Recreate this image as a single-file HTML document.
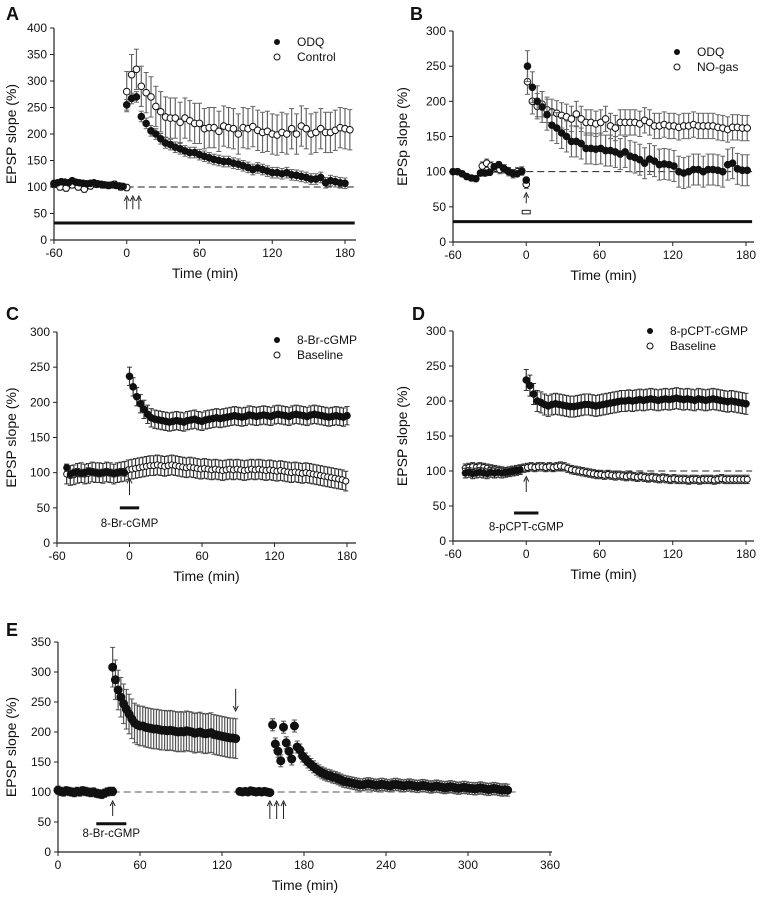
<!DOCTYPE html>
<html><head><meta charset="utf-8">
<style>
html,body{margin:0;padding:0;background:#fff;}
svg{display:block;font-family:"Liberation Sans",Arial,sans-serif;}
</style></head>
<body>
<svg id="fig" width="760" height="900" viewBox="0 0 760 900" xmlns="http://www.w3.org/2000/svg"></svg>
<script>
// ---------- DATA ----------
// Panel A
const aOdqBase = [107,108,110,109,108,112,109,108,107,106,107,108,106,105,104,103,104,103,102,101];
const aOdqPost = [255,267,270,233,220,206,200,191,183,180,175,172,168,165,165,161,158,155,152,150,148,148,145,143,140,137,133,136,133,130,127,127,125,127,123,122,120,118,115,115,118,108,112,110,108,107];
const aCtlBase = [105,100,98,104,100,96,102,105,104,103,105,100,99];
const aCtlPost = [280,312,322,290,278,270,252,242,232,230,230,222,230,225,220,220,210,212,212,205,215,212,210,200,212,210,214,207,203,205,200,198,203,200,210,200,215,210,200,203,210,203,203,207,212,210,208];
// Panel B
const bOdqBase = [100,100,97,93,91,90,98,98,99,107,110,105,101,98,97,100,88];
const bOdqPost = [250,220,200,192,181,166,162,155,150,143,143,140,133,133,132,133,130,130,128,125,128,122,120,117,112,118,115,110,111,110,108,100,98,100,103,103,100,103,103,102,100,110,112,104,102,102];
const bNoBase = [108,112,108,105,103,104,100,97,100,101,82];
const bNoPost = [228,200,193,196,188,185,183,180,178,175,182,175,170,170,168,170,175,165,162,170,170,170,170,168,173,170,165,165,167,165,165,163,165,165,167,165,165,165,165,163,162,160,163,163,162,162];
// Panel C
const cDrugBase = [107,98,100,101,99,100,102,101,100,99,100,101,100,99,100,101,100];
const cDrugPost = [237,222,208,198,190,183,178,176,175,174,173,172,173,174,173,172,174,175,176,174,173,175,176,177,178,177,178,179,180,181,180,179,180,182,181,180,181,182,181,180,182,183,182,181,180,182,183,182,181,180,182,183,182,181,180,179,180,181,180,179,181];
const cBaseline = [98,96,97,99,100,98,99,101,100,100,99,101,100,98,100,101,102,104,105,106,107,108,109,110,110,111,110,109,110,111,110,109,108,107,108,107,106,105,106,105,104,105,104,103,104,105,104,105,104,103,104,105,104,105,104,103,104,103,102,103,102,101,100,101,100,99,100,99,98,97,96,95,94,93,92,91,90,88];
// Panel D
const dDrugBase = [97,98,96,97,98,97,96,98,97,98,97,98,99,100,101,102];
const dDrugPost = [230,222,210,200,198,195,193,195,196,195,194,193,192,192,193,194,195,195,194,193,194,195,196,197,198,199,200,200,201,200,201,202,201,202,203,202,201,202,203,202,203,204,203,202,203,202,201,203,202,201,202,203,202,201,200,199,200,199,198,197,196];
const dBaseline = [104,105,106,105,106,105,104,103,102,101,100,99,98,99,100,102,104,105,106,105,106,106,105,106,105,106,107,106,104,102,101,100,99,98,97,96,95,95,94,95,94,93,94,93,92,93,92,91,92,91,90,91,90,89,90,89,88,89,88,88,88,87,88,88,87,88,88,88,87,88,89,88,88,88,88,88,88,88];
// Panel E
const eBase1 = [103,101,100,102,101,100,99,101,100,102,101,100,99,100,98,97,96,98,100,101,101];
const ePost1 = [308,287,270,258,247,238,230,222,215,212,210,210,208,207,206,205,205,204,203,203,202,203,202,201,200,201,200,202,201,200,198,199,200,198,197,198,199,196,195,194,193,192,191,190,190,189];
const eBase2 = [101,100,101,100,102,101,100,101,100,101,100,99];
const ePost2 = [212,180,168,152,208,182,168,155,210,175,170,160,155,150,146,142,138,135,132,130,128,127,125,124,122,120,118,117,116,115,114,113,112,112,113,114,113,112,111,112,113,112,111,110,112,113,112,111,110,111,112,111,110,109,110,111,110,109,108,109,110,109,108,107,108,109,108,107,106,107,108,107,106,106,105,106,107,106,105,104,105,106,105,104,103,104,103];
const ticksA_Y = [0,50,100,150,200,250,300,350,400];
const ticks300 = [0,50,100,150,200,250,300];
const ticks350 = [0,50,100,150,200,250,300,350];
const ticksX = [-60,0,60,120,180];
const ticksXE = [0,60,120,180,240,300,360];

// ---------- DRAWING ----------
const NS = "http://www.w3.org/2000/svg";
const svg = document.getElementById('fig');
function el(tag, attrs, parent, text){
  const e = document.createElementNS(NS, tag);
  for (const k in attrs) e.setAttribute(k, attrs[k]);
  if (text !== undefined) e.textContent = text;
  (parent || svg).appendChild(e);
  return e;
}
function makeScale(d0, d1, p0, p1){ return v => p0 + (v - d0) * (p1 - p0) / (d1 - d0); }

function axes(g, c, yTicks, xTicks, title){
  const sx = makeScale(c.xmin, c.xmax, c.px0, c.px1);
  const sy = makeScale(c.ymin, c.ymax, c.py0, c.py1);
  const ax = el('g', {}, g);
  
  
  el('line', {x1:c.px0, y1:c.py0, x2:c.px0, y2:sy(yTicks[yTicks.length-1]), stroke:'#222','stroke-width':1.2}, ax);
  el('line', {x1:c.px0, y1:c.py0, x2:c.right, y2:c.py0, stroke:'#222','stroke-width':1.2}, ax);
  yTicks.forEach(t => {
    el('line', {x1:c.px0-4, y1:sy(t), x2:c.px0, y2:sy(t), stroke:'#222'}, ax);
    const lb = el('text', {x:c.px0-7, y:sy(t)+4, 'font-size':12, 'text-anchor':'end', fill:'#111'}, ax, t);
    
    
  });
  xTicks.forEach(t => {
    el('line', {x1:sx(t), y1:c.py0, x2:sx(t), y2:c.py0+4, stroke:'#222'}, ax);
    const lb = el('text', {x:sx(t), y:c.py0+17, 'font-size':12, 'text-anchor':'middle', fill:'#111'}, ax, t);
    
    
  });
  const xt = el('text', {x:(c.px0+c.right)/2, y:c.py0+38, 'font-size':14, 'text-anchor':'middle', fill:'#111'}, ax, 'Time (min)');
  
  
  const yc = (c.py0 + sy(yTicks[yTicks.length-1]))/2;
  const yt = el('text', {x:c.ylx, y:yc, 'font-size':14, 'text-anchor':'middle', fill:'#111', transform:`rotate(-90 ${c.ylx} ${yc})`}, ax, title);
  
  
  return {sx, sy};
}
function series(g, S, t0, dt, vals, err, filled, name, r, ecol){
  r = r || 3.3; ecol = ecol || '#666';
  const sg = el('g', {}, g);
  
  
  vals.forEach((v, i) => {
    const x = S.sx(t0 + i*dt);
    el('line', {x1:x, y1:S.sy(v-err), x2:x, y2:S.sy(v+err), stroke:ecol,'stroke-width':1.2}, sg);
    el('line', {x1:x-2.5, y1:S.sy(v+err), x2:x+2.5, y2:S.sy(v+err), stroke:ecol,'stroke-width':1}, sg);
    el('line', {x1:x-2.5, y1:S.sy(v-err), x2:x+2.5, y2:S.sy(v-err), stroke:ecol,'stroke-width':1}, sg);
  });
  vals.forEach((v, i) => {
    const m = el('circle', {cx:S.sx(t0 + i*dt), cy:S.sy(v), r:r, fill: filled ? '#111' : '#fff', stroke:'#111','stroke-width':1}, sg);
    
    
  });
}
function dashed(g, S, t0, t1, color){
  const l = el('line', {x1:S.sx(t0), y1:S.sy(100), x2:S.sx(t1), y2:S.sy(100), stroke:color||'#222','stroke-width':1,'stroke-dasharray':'7,4'}, g);
  
  
}
function arrowUp(g, S, t, vTop, vBot){
  const x = S.sx(t), y1 = S.sy(vTop), y2 = S.sy(vBot);
  const a = el('g', {}, g);
  
  
  el('line', {x1:x, y1:y1+2, x2:x, y2:y2, stroke:'#222','stroke-width':1}, a);
  el('path', {d:`M${x-2.5},${y1+5} L${x},${y1} L${x+2.5},${y1+5}`, fill:'none', stroke:'#222','stroke-width':1}, a);
}
function arrowDown(g, S, t, vTop, vBot){
  const x = S.sx(t), y1 = S.sy(vTop), y2 = S.sy(vBot);
  const a = el('g', {}, g);
  
  
  el('line', {x1:x, y1:y1, x2:x, y2:y2-2, stroke:'#222','stroke-width':1}, a);
  el('path', {d:`M${x-2.5},${y2-5} L${x},${y2} L${x+2.5},${y2-5}`, fill:'none', stroke:'#222','stroke-width':1}, a);
}
function bar(g, S, t0, t1, v, w, name){
  const b = el('line', {x1:S.sx(t0), y1:S.sy(v), x2:S.sx(t1), y2:S.sy(v), stroke:'#111','stroke-width':w}, g);
  
  
}
function legend(g, x, y, l1, l2){
  const lg = el('g', {}, g);
  
  
  el('circle', {cx:x, cy:y, r:3, fill:'#111'}, lg);
  const t1 = el('text', {x:x+20, y:y+4, 'font-size':12, fill:'#111'}, lg, l1);
  
  
  el('circle', {cx:x, cy:y+15, r:3, fill:'#fff', stroke:'#111'}, lg);
  const t2 = el('text', {x:x+20, y:y+19, 'font-size':12, fill:'#111'}, lg, l2);
  
  
}
function letter(g, x, y, L){
  const t = el('text', {x, y, 'font-size':18, 'font-weight':'bold', fill:'#111'}, g, L);
  
  
}
function panel(name){
  const g = el('g', {});
  
  
  return g;
}

// Panel A
let g = panel('panel-a');
letter(g, 6, 20, 'A');
let S = axes(g, {xmin:-60,xmax:180,px0:54,px1:345,ymin:0,ymax:400,py0:240,py1:28,right:356,ylx:16}, ticksA_Y, ticksX, 'EPSP slope (%)');
bar(g, S, -60, 188, 32, 3, 'odq-application-bar');
dashed(g, S, 0, 188);
arrowUp(g, S, 0, 83, 58); arrowUp(g, S, 5, 83, 58); arrowUp(g, S, 10, 83, 58);
series(g, S, 0, 4, aCtlPost, 38, false, 'control-series');
series(g, S, -60, 5, aCtlBase, 6, false, 'control-baseline');
series(g, S, -60, 3, aOdqBase, 4, true, 'odq-baseline');
series(g, S, 0, 4, aOdqPost, 10, true, 'odq-series');
legend(g, 277, 42, 'ODQ', 'Control');

// Panel B
g = panel('panel-b');
letter(g, 410, 20, 'B');
S = axes(g, {xmin:-60,xmax:180,px0:453,px1:746,ymin:0,ymax:300,py0:242,py1:31,right:754,ylx:407}, ticks300, ticksX, 'EPSp slope (%)');
bar(g, S, -60, 185, 29, 3, 'odq-application-bar');
dashed(g, S, 0, 185);
arrowUp(g, S, 0, 70, 55);
el('rect', {x:S.sx(0)-4, y:S.sy(45), width:8, height:3.5, fill:'#fff', stroke:'#222'}, g);
series(g, S, -36, 3.6, bNoBase, 6, false, 'no-gas-baseline');
series(g, S, 1, 4, bNoPost, 18, false, 'no-gas-series');
series(g, S, -60, 3.75, bOdqBase, 4, true, 'odq-baseline');
series(g, S, 1, 4, bOdqPost, 22, true, 'odq-series');
legend(g, 677, 52, 'ODQ', 'NO-gas');

// Panel C
g = panel('panel-c');
letter(g, 6, 320, 'C');
S = axes(g, {xmin:-60,xmax:180,px0:57,px1:347,ymin:0,ymax:300,py0:543,py1:332,right:356,ylx:16}, ticks300, ticksX, 'EPSP slope (%)');
bar(g, S, -8, 8, 50, 3, 'drug-application-bar');
arrowUp(g, S, 0, 92, 68);
let lb = el('text', {x:S.sx(0), y:S.sy(23), 'font-size':11.5, 'text-anchor':'middle', fill:'#111'}, g, '8-Br-cGMP');
 
series(g, S, -52, 3, cBaseline, 14, false, 'baseline-series', 3, '#333');
series(g, S, -52, 3, cDrugBase, 5, true, 'drug-baseline', 3, '#333');
series(g, S, 0, 3, cDrugPost, 13, true, 'drug-series', 3.3, '#333');
legend(g, 277, 340, '8-Br-cGMP', 'Baseline');

// Panel D
g = panel('panel-d');
letter(g, 412, 320, 'D');
S = axes(g, {xmin:-60,xmax:180,px0:453,px1:746,ymin:0,ymax:300,py0:541,py1:331,right:754,ylx:407}, ticks300, ticksX, 'EPSP slope (%)');
bar(g, S, -10, 10, 40, 3, 'drug-application-bar');
dashed(g, S, 0, 185);
arrowUp(g, S, 0, 92, 70);
lb = el('text', {x:S.sx(0), y:S.sy(15), 'font-size':11.5, 'text-anchor':'middle', fill:'#111'}, g, '8-pCPT-cGMP');
 
series(g, S, -50, 3, dBaseline, 6, false, 'baseline-series', 3, '#333');
series(g, S, -50, 3, dDrugBase, 7, true, 'drug-baseline', 3, '#333');
series(g, S, 0, 3, dDrugPost, 15, true, 'drug-series', 3.3, '#333');
legend(g, 650, 331, '8-pCPT-cGMP', 'Baseline');

// Panel E
g = panel('panel-e');
letter(g, 6, 636, 'E');
S = axes(g, {xmin:0,xmax:360,px0:58,px1:550,ymin:0,ymax:350,py0:852,py1:642,right:552,ylx:16}, ticks350, ticksXE, 'EPSP slope (%)');
dashed(g, S, 40, 335, '#555');
bar(g, S, 28, 50, 47, 3, 'drug-application-bar');
lb = el('text', {x:S.sx(39), y:S.sy(25), 'font-size':11.5, 'text-anchor':'middle', fill:'#111'}, g, '8-Br-cGMP');
 
arrowUp(g, S, 40, 85, 60);
arrowUp(g, S, 155, 85, 55); arrowUp(g, S, 160, 85, 55); arrowUp(g, S, 165, 85, 55);
arrowDown(g, S, 130, 272, 235);
series(g, S, 0, 2, eBase1, 7, true, 'baseline-1', 4);
series(g, S, 40, 2, ePost1, 33, true, 'drug-response-series', 4, '#555');
series(g, S, 133, 2, eBase2, 3, true, 'baseline-2', 4);
series(g, S, 157, 2, ePost2, 10, true, 'tetanus-series', 4, '#555');
</script>
</body></html>
